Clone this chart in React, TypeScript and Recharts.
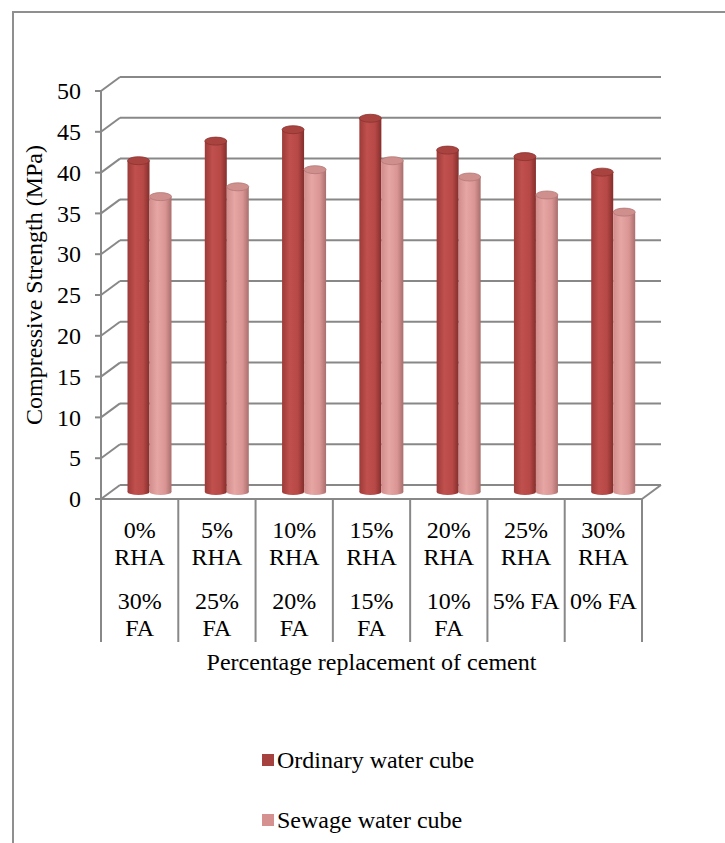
import { BarChart, Bar, XAxis, YAxis, CartesianGrid, Legend } from 'recharts';

const categories = ['0% RHA 30% FA', '5% RHA 25% FA', '10% RHA 20% FA', '15% RHA 15% FA', '20% RHA 10% FA', '25% RHA 5% FA', '30% RHA 0% FA'];
const rhaLabels = ['0%', '5%', '10%', '15%', '20%', '25%', '30%'];
const faLabels = [['30%', 'FA'], ['25%', 'FA'], ['20%', 'FA'], ['15%', 'FA'], ['10%', 'FA'], ['5% FA'], ['0% FA']];
const ordinaryWater = [40.6, 43.0, 44.4, 45.8, 41.9, 41.1, 39.2];
const sewageWater = [36.2, 37.4, 39.5, 40.6, 38.6, 36.4, 34.3];
const yTicks = [0, 5, 10, 15, 20, 25, 30, 35, 40, 45, 50];

const data = categories.map((name, i) => ({
  name,
  ordinary: ordinaryWater[i],
  sewage: sewageWater[i],
}));

const FONT = 'Liberation Serif, Tinos, DejaVu Serif, serif';
const LINE = '#888888';

// front plane of the 3D box; the back wall sits DEPTH_X right / DEPTH_Y up
const PLOT_LEFT = 101;
const PLOT_RIGHT = 642;
const PLOT_TOP = 91;
const PLOT_BOTTOM = 499;
const DEPTH_X = 19;
const DEPTH_Y = 14;
const CHART_W = 725;
const CHART_H = 843;
const Y_AXIS_W = 60;
const X_AXIS_H = 150;
const BAND = (PLOT_RIGHT - PLOT_LEFT) / categories.length;

const PALETTES = {
  ordinary: {
    stops: ['#9c3b39', '#c0504d', '#b64846', '#842e2c'],
    top: '#a9433f',
    rim: '#8a3331',
    swatch: '#a5423f',
  },
  sewage: {
    stops: ['#d08c8a', '#e6a6a4', '#d99593', '#a96f6d'],
    top: '#cf8f8d',
    rim: '#b27877',
    swatch: '#d49190',
  },
};

type PaletteKey = keyof typeof PALETTES;

// cylinders sit half way into the box depth
function Cylinder(props: any) {
  const { x, y, width, height, index, palette } = props;
  const p = PALETTES[palette as PaletteKey];
  const cx = x + DEPTH_X / 2;
  const top = y - DEPTH_Y / 2;
  const bottom = y + height - DEPTH_Y / 2;
  const rx = width / 2;
  const gid = `cyl-${palette}-${index}`;
  return (
    <g>
      <defs>
        <linearGradient id={gid} x1="0" y1="0" x2="1" y2="0">
          <stop offset="0%" stopColor={p.stops[0]} />
          <stop offset="35%" stopColor={p.stops[1]} />
          <stop offset="72%" stopColor={p.stops[2]} />
          <stop offset="100%" stopColor={p.stops[3]} />
        </linearGradient>
      </defs>
      <ellipse cx={cx + rx} cy={bottom} rx={rx} ry={3} fill={`url(#${gid})`} />
      <rect x={cx} y={top} width={width} height={Math.max(0, bottom - top)} fill={`url(#${gid})`} />
      <ellipse cx={cx + rx} cy={top} rx={rx} ry={4} fill={p.top} stroke={p.rim} strokeWidth={0.8} />
    </g>
  );
}

function ValueTick(props: any) {
  const { x, y, payload } = props;
  const axisX = x + 20;
  return (
    <g>
      <text x={x} y={y} dy="0.34em" textAnchor="end" fontSize={24} fontFamily={FONT} fill="#000">
        {payload.value}
      </text>
      <line x1={axisX} y1={y} x2={axisX + DEPTH_X} y2={y - DEPTH_Y} stroke={LINE} strokeWidth={2} />
    </g>
  );
}

function CategoryTick(props: any) {
  const { x, y, index } = props;
  const left = x - BAND / 2;
  const right = x + BAND / 2;
  const last = index === categories.length - 1;
  const fa = faLabels[index] || [];
  const textProps = { x, textAnchor: 'middle' as const, fontSize: 24, fontFamily: FONT, fill: '#000' };
  return (
    <g>
      <line x1={left} y1={y} x2={left} y2={y + 143} stroke={LINE} strokeWidth={2} />
      {last && <line x1={right} y1={y} x2={right} y2={y + 143} stroke={LINE} strokeWidth={2} />}
      {last && <line x1={right} y1={y} x2={right + DEPTH_X} y2={y - DEPTH_Y} stroke={LINE} strokeWidth={2} />}
      <text {...textProps} y={y + 39}>{rhaLabels[index]}</text>
      <text {...textProps} y={y + 66}>RHA</text>
      {fa.map((line, k) => (
        <text key={k} {...textProps} y={y + 110 + k * 27}>{line}</text>
      ))}
    </g>
  );
}

function BackGridLine(props: any) {
  const { x1, y1, x2, y2 } = props;
  return (
    <line
      x1={x1 + DEPTH_X}
      y1={y1 - DEPTH_Y}
      x2={x2 + DEPTH_X}
      y2={y2 - DEPTH_Y}
      stroke={LINE}
      strokeWidth={2}
    />
  );
}

function LegendBox(props: any) {
  const items = (props.payload || []) as Array<{ value: string; dataKey: string }>;
  return (
    <div style={{ fontFamily: FONT, fontSize: 24, color: '#000' }}>
      {items.map((item) => (
        <div key={item.value} style={{ display: 'flex', alignItems: 'center', height: 30, marginBottom: 30 }}>
          <span
            style={{
              display: 'inline-block',
              width: 12,
              height: 12,
              marginRight: 3,
              background: PALETTES[item.dataKey as PaletteKey].swatch,
            }}
          />
          <span style={{ whiteSpace: 'nowrap' }}>{item.value}</span>
        </div>
      ))}
    </div>
  );
}

export default function App() {
  return (
    <div
      style={{
        position: 'absolute',
        left: 0,
        top: 0,
        width: CHART_W,
        height: CHART_H,
        overflow: 'hidden',
        background: '#fff',
        fontFamily: FONT,
      }}
    >
      <div
        style={{
          position: 'absolute',
          left: 12,
          top: 11,
          width: 800,
          height: 900,
          borderLeft: '2px solid #8f8f8f',
          borderTop: '2px solid #8f8f8f',
        }}
      />
      <BarChart
        width={CHART_W}
        height={CHART_H}
        data={data}
        barGap={0}
        barSize={22}
        style={{ fontFamily: FONT }}
        margin={{
          top: PLOT_TOP,
          right: CHART_W - PLOT_RIGHT,
          bottom: CHART_H - PLOT_BOTTOM - X_AXIS_H,
          left: PLOT_LEFT - Y_AXIS_W,
        }}
      >
        <CartesianGrid vertical={false} horizontal={(p: any) => <BackGridLine key={p.key} {...p} />} />
        <XAxis
          dataKey="name"
          height={X_AXIS_H}
          interval={0}
          tickSize={0}
          tickMargin={0}
          tickLine={false}
          axisLine={{ stroke: LINE, strokeWidth: 2 }}
          tick={<CategoryTick />}
          label={{
            value: 'Percentage replacement of cement',
            position: 'bottom',
            offset: 4,
            fill: '#000',
            fontSize: 24,
            fontFamily: FONT,
          }}
        />
        <YAxis
          width={Y_AXIS_W}
          domain={[0, 50]}
          ticks={yTicks}
          interval={0}
          tickSize={6}
          tickMargin={14}
          tickLine={{ stroke: LINE, strokeWidth: 2 }}
          axisLine={{ stroke: LINE, strokeWidth: 2 }}
          tick={<ValueTick />}
          label={{
            content: () => (
              <text
                x={34}
                y={285}
                transform="rotate(-90 34 285)"
                textAnchor="middle"
                dy="0.34em"
                fontSize={24}
                fontFamily={FONT}
                fill="#000"
              >
                Compressive Strength (MPa)
              </text>
            ),
          }}
        />
        <Legend
          layout="vertical"
          align="center"
          verticalAlign="middle"
          wrapperStyle={{ top: 745, left: 262 }}
          content={<LegendBox />}
        />
        <Bar
          dataKey="ordinary"
          name="Ordinary water cube"
          fill={PALETTES.ordinary.swatch}
          isAnimationActive={false}
          shape={(p: any) => <Cylinder {...p} palette="ordinary" />}
        />
        <Bar
          dataKey="sewage"
          name="Sewage water cube"
          fill={PALETTES.sewage.swatch}
          isAnimationActive={false}
          shape={(p: any) => <Cylinder {...p} palette="sewage" />}
        />
      </BarChart>
    </div>
  );
}
